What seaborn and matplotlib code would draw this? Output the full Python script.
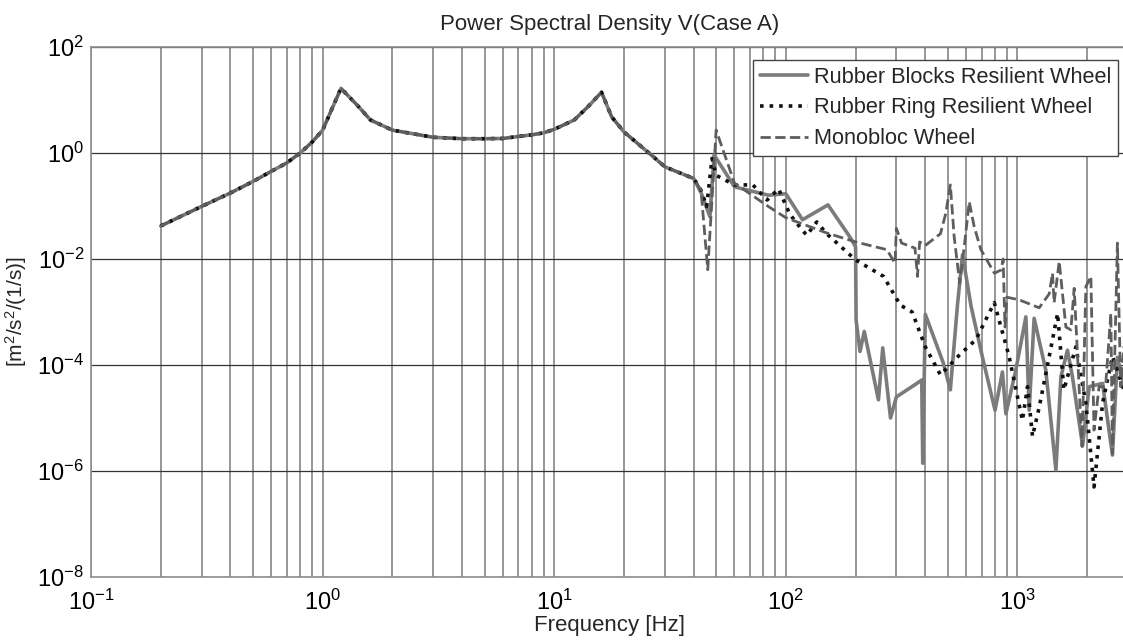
import numpy as np
import pandas as pd
import matplotlib
matplotlib.use("Agg")
import matplotlib.pyplot as plt
import seaborn as sns
from matplotlib.ticker import LogLocator, NullFormatter

# ---- data ----
f_common = [0.2, 0.3, 0.4, 0.5, 0.6, 0.7, 0.8, 0.9, 1.0, 1.2, 1.41, 1.61, 2.0, 3.0, 4.0,
            5.0, 6.0, 7.0, 8.0, 9.0, 10.0, 12.2, 14.0, 16.0, 17.7, 20.0, 26.3, 30.0, 40.0]
v_common = [0.042, 0.098, 0.176, 0.29, 0.45, 0.65, 1.0, 1.6, 2.7, 16.6, 8.0, 4.2, 2.7, 1.98, 1.86,
            1.86, 1.88, 2.05, 2.2, 2.4, 2.8, 4.2, 7.5, 14.0, 4.8, 2.5, 0.91, 0.55, 0.33]

f_blocks = [43, 47, 49, 60, 84, 100, 118, 152, 189, 200, 201, 209, 218, 251, 262, 283, 300,
            368, 386, 390, 400, 478, 513, 551, 579, 630, 706, 800, 861, 891, 984, 1087, 1123,
            1180, 1325, 1465, 1540, 1643, 1727, 1910, 2040, 2330, 2570, 2700, 3000]
v_blocks = [0.18, 0.063, 0.92, 0.23, 0.16, 0.17, 0.055, 0.105, 0.026, 0.017, 7e-4, 1.8e-4,
            4.3e-4, 2.2e-5, 2.1e-4, 1e-5, 2.5e-5, 4.5e-5, 5.2e-5, 1.4e-6, 9e-4, 1.1e-4, 3.4e-5,
            1.4e-3, 0.012, 1.3e-3, 1.4e-4, 1.4e-5, 7.4e-5, 1.2e-5, 8.1e-5, 8.1e-4, 1.4e-5,
            7.6e-4, 8e-5, 1.05e-6, 6e-5, 1.9e-4, 6e-5, 3e-6, 3.9e-5, 4.5e-5, 2e-6, 1.4e-4, 2e-5]

f_ring = [43, 45.5, 48, 50, 60, 72, 83, 93, 104, 113, 123, 136, 150, 200, 264, 312, 351, 400,
          465, 566, 661, 794, 920, 1050, 1105, 1161, 1241, 1371, 1490, 1586, 1787, 1973, 2140,
          2330, 2570, 3000]
v_ring = [0.2, 0.098, 0.79, 0.38, 0.25, 0.25, 0.13, 0.21, 0.07, 0.044, 0.028, 0.05, 0.030,
          0.0096, 0.0047, 0.00135, 0.001, 2.2e-4, 6.5e-5, 1.6e-4, 3e-4, 1.5e-3, 1.45e-4, 9e-6,
          3.9e-5, 4.5e-6, 1.6e-5, 1.45e-4, 9.4e-4, 3.4e-5, 2.2e-4, 1.9e-5, 5e-7, 1.9e-5,
          1.45e-4, 2e-5]

f_mono = [43, 46, 50, 60, 84, 100, 150, 200, 273, 296, 300, 316, 361, 370, 378, 400, 465, 490,
          513, 533, 563, 589, 619, 650, 695, 795, 850, 867, 883, 900, 1016, 1241, 1371, 1416,
          1439, 1514, 1618, 1700, 1757, 1900, 1973, 2074, 2140, 2250, 2400, 2530, 2570, 2700,
          2790, 3000]
v_mono = [0.2, 0.0063, 2.7, 0.27, 0.098, 0.06, 0.031, 0.021, 0.015, 0.0083, 0.038, 0.02, 0.016,
          0.0047, 0.021, 0.018, 0.03, 0.072, 0.25, 0.026, 0.0035, 0.017, 0.12, 0.041, 0.015,
          0.0054, 0.0062, 0.010, 5.2e-4, 0.0019, 0.0017, 0.0012, 0.0022, 0.0054, 0.0015, 0.009,
          5.2e-4, 4.6e-4, 0.0028, 2.9e-6, 0.003, 0.0047, 5.9e-6, 3.9e-5, 3.9e-5, 9.4e-4, 2.1e-6,
          0.02, 3.9e-5, 0.0019]

labels = ["Rubber Blocks Resilient Wheel", "Rubber Ring Resilient Wheel", "Monobloc Wheel"]
title = "Power Spectral Density V(Case A)"
xlabel = "Frequency [Hz]"
ylabel = "[m$^2$/s$^2$/(1/s)]"

# ---- style ----
sns.set_style("white")
plt.rcParams["font.family"] = ["Liberation Sans", "DejaVu Sans"]
plt.rcParams["mathtext.fontset"] = "custom"
plt.rcParams["mathtext.rm"] = "Liberation Sans"
plt.rcParams["mathtext.it"] = "Liberation Sans:italic"
plt.rcParams["mathtext.bf"] = "Liberation Sans:bold"
plt.rcParams["axes.unicode_minus"] = False

fig = plt.figure(figsize=(11.23, 6.44), dpi=100)
ax = fig.add_axes([91 / 1123, 1 - 577 / 644, (1128 - 91) / 1123, (577 - 47) / 644])
ax.set_xscale("log")
ax.set_yscale("log")

series = [
    (f_blocks, v_blocks, labels[0], "#7b7b7b", "-", 2.6),
    (f_ring, v_ring, labels[1], "#111111", ":", 2.6),
    (f_mono, v_mono, labels[2], "#5e5e5e", "--", 2.0),
]
for fx, vx, lab, col, ls, lw in series:
    df = pd.DataFrame({"f": f_common + fx, "v": v_common + vx})
    sns.lineplot(data=df, x="f", y="v", ax=ax, color=col, linestyle=ls, linewidth=lw,
                 label=lab, estimator=None, sort=False)

ax.set_xlim(0.1, 3000)
ax.set_ylim(1e-8, 1e2)
ax.set_yticks([1e-8, 1e-6, 1e-4, 1e-2, 1e0, 1e2])
ax.yaxis.set_minor_locator(plt.NullLocator())
ax.xaxis.set_major_locator(LogLocator(base=10, numticks=20))
ax.xaxis.set_minor_locator(LogLocator(base=10, subs=np.arange(2, 10), numticks=50))
ax.xaxis.set_minor_formatter(NullFormatter())

ax.grid(True, axis="x", which="both", color="#8f8f8f", linewidth=1.3)
ax.grid(True, axis="y", which="major", color="#333333", linewidth=0.9)
ax.set_axisbelow(True)
ax.tick_params(axis="both", which="both", length=0, labelsize=17, colors="black")
ax.tick_params(axis="x", pad=9)
ax.tick_params(axis="y", pad=5)
for s in ax.spines.values():
    s.set_color("#8f8f8f")
    s.set_linewidth(1.2)

ax.set_title(title, fontsize=16, pad=12)
ax.set_xlabel(xlabel, fontsize=16, labelpad=0)
ax.set_ylabel(ylabel, fontsize=15, labelpad=6)

leg = ax.legend(loc="upper right", bbox_to_anchor=(0.9905, 0.9755), fontsize=15.7,
                frameon=True, fancybox=False, edgecolor="#444444", framealpha=1,
                handlelength=2.2, handletextpad=0.3, labelspacing=0.45,
                borderpad=0.3, borderaxespad=0)
leg.get_frame().set_linewidth(1.0)

fig.savefig("out.png", dpi=100)
